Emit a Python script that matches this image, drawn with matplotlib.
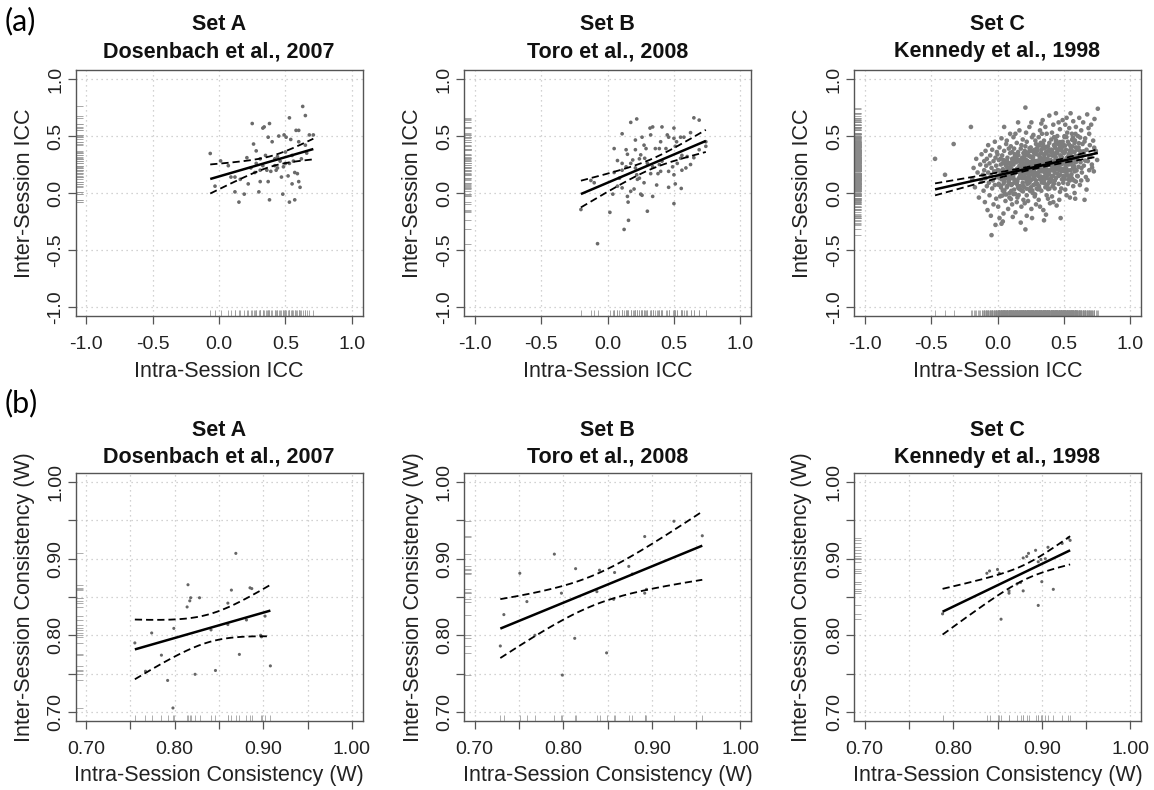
import numpy as np
import matplotlib
matplotlib.use("Agg")
import matplotlib.pyplot as plt

plt.rcParams['font.family'] = ['Liberation Sans', 'DejaVu Sans']

# ---------------- data ----------------
titles_top = ["Set A", "Set B", "Set C"]
titles_sub = ["Dosenbach et al., 2007", "Toro et al., 2008", "Kennedy et al., 1998"]

icc_ticks = [-1.0, -0.5, 0.0, 0.5, 1.0]
icc_labels = ["-1.0", "-0.5", "0.0", "0.5", "1.0"]
w_ticks = [0.70, 0.75, 0.80, 0.85, 0.90, 0.95, 1.00]
w_labels = ["0.70", "", "0.80", "", "0.90", "", "1.00"]

# (a) Set A: intra- vs inter-session ICC
setA_intra = [-0.066, 0.012, -0.03, 0.09, 0.12, 0.12, 0.15, 0.19, 0.21, 0.22, 0.25, 0.26, 0.28, 0.30,
              0.31, 0.31, 0.33, 0.34, 0.36, 0.37, 0.38, 0.37, 0.38, 0.39, 0.40, 0.42, 0.43, 0.44, 0.45,
              0.47, 0.48, 0.49, 0.485, 0.50, 0.505, 0.52, 0.53, 0.53, 0.54, 0.55, 0.56, 0.57, 0.58, 0.60,
              0.59, 0.60, 0.61, 0.60, 0.63, 0.65, 0.65, 0.68, 0.71, 0.57, 0.66, 0.53, 0.31, 0.28,
              0.07, 0.16, 0.24, 0.33, 0.35, 0.42, 0.46, 0.50, 0.55, 0.62, 0.27, 0.44]
setA_inter = [0.347, 0.282, 0.06, 0.14, 0.14, 0.01, -0.08, -0.01, 0.31, 0.08, 0.61, 0.43, 0.37, 0.01,
              0.10, 0.30, 0.57, 0.58, 0.20, 0.10, 0.61, 0.49, -0.06, 0.19, 0.45, 0.24, 0.20, 0.32, 0.50,
              0.14, -0.01, 0.51, 0.23, 0.26, 0.49, 0.15, 0.66, -0.08, 0.47, 0.08, 0.28, -0.06, 0.55, 0.55,
              0.17, 0.10, 0.05, 0.45, 0.76, 0.68, 0.42, 0.51, 0.51, 0.18, 0.35, 0.26, 0.20, 0.26,
              0.24, 0.12, 0.22, 0.24, 0.33, 0.30, 0.28, 0.36, 0.33, 0.30, 0.18, 0.22]

# (a) Set B
setB_icc = [(-0.20, -0.145), (-0.075, -0.445), (0.018, -0.17), (0.125, -0.32), (0.158, -0.24), (0.30, -0.16),
            (0.50, -0.093), (0.04, -0.01), (0.155, -0.08), (0.15, -0.03), (0.20, 0.035), (0.25, -0.01),
            (0.26, -0.02), (0.34, -0.03), (0.37, 0.07), (0.46, 0.05), (0.51, 0.08), (0.555, 0.04),
            (-0.125, 0.11), (-0.10, 0.09), (0.05, 0.18), (0.075, 0.285), (0.11, 0.26), (0.11, 0.52),
            (0.05, 0.39), (0.14, 0.38), (0.15, 0.34), (0.175, 0.62), (0.22, 0.65), (0.21, 0.465),
            (0.21, 0.38), (0.24, 0.13), (0.22, 0.16), (0.21, 0.22), (0.26, 0.49), (0.275, 0.42),
            (0.29, 0.39), (0.32, 0.57), (0.34, 0.58), (0.325, 0.51), (0.36, 0.39), (0.39, 0.39),
            (0.40, 0.45), (0.41, 0.58), (0.45, 0.51), (0.46, 0.49), (0.50, 0.57), (0.50, 0.48),
            (0.52, 0.45), (0.55, 0.49), (0.575, 0.49), (0.625, 0.53), (0.65, 0.66), (0.69, 0.64),
            (0.74, 0.45), (0.74, 0.41), (0.69, 0.38), (0.65, 0.31), (0.625, 0.25), (0.59, 0.22),
            (0.56, 0.20), (0.525, 0.26), (0.49, 0.23), (0.50, 0.16), (0.46, 0.19), (0.41, 0.28),
            (0.39, 0.25), (0.40, 0.19), (0.38, 0.17), (0.34, 0.23), (0.325, 0.17), (0.30, 0.26),
            (0.28, 0.305), (0.25, 0.335), (0.24, 0.30), (0.175, 0.26), (0.19, 0.29), (0.14, 0.23),
            (0.11, 0.20), (0.09, 0.13), (0.075, 0.06), (0.11, 0.045), (0.175, 0.015), (0.225, 0.12),
            (0.275, 0.09), (0.55, 0.305), (0.56, 0.33), (0.60, 0.32), (0.51, 0.41), (0.44, 0.39)]

# (a) Set C (dense cloud, read approximately)
setC_icc = [
    (-0.47, 0.30), (-0.395, 0.16), (-0.33, 0.43), (-0.20, 0.58), (-0.045, -0.37), (-0.015, -0.28), (0.04, -0.25), (0.75, 0.29),
    (-0.19, 0.12), (-0.18, 0.22), (-0.17, 0.05), (-0.16, 0.30), (-0.15, 0.18), (-0.14, -0.04), (-0.13, 0.25), (-0.12, 0.10),
    (-0.12, 0.34), (-0.11, 0.16), (-0.105, 0.02), (-0.10, 0.28),
    (-0.10, 0.20), (-0.095, -0.08), (-0.09, 0.37), (-0.09, 0.13), (-0.085, 0.24), (-0.08, 0.06), (-0.08, 0.30), (-0.075, -0.15),
    (-0.07, 0.18), (-0.07, 0.42), (-0.065, 0.09), (-0.06, 0.26), (-0.06, -0.02), (-0.055, 0.33), (-0.05, 0.15), (-0.05, -0.20),
    (-0.045, 0.22), (-0.04, 0.04), (-0.04, 0.38), (-0.035, 0.11), (-0.03, 0.28), (-0.03, -0.10), (-0.025, 0.19), (-0.02, 0.45),
    (-0.02, 0.07), (-0.015, 0.31), (-0.01, -0.05), (-0.01, 0.24), (-0.005, 0.14), (-0.005, 0.36),
    (0.00, 0.20), (0.005, -0.12), (0.01, 0.29), (0.01, 0.08), (0.015, 0.40), (0.02, 0.16), (0.02, -0.03), (0.025, 0.25),
    (0.03, 0.12), (0.03, 0.48), (0.035, 0.33), (0.04, 0.02), (0.04, 0.21), (0.045, -0.18), (0.05, 0.37), (0.05, 0.10),
    (0.055, 0.27), (0.06, 0.17), (0.06, -0.07), (0.065, 0.43), (0.07, 0.05), (0.07, 0.23), (0.075, 0.31), (0.08, 0.14),
    (0.08, -0.14), (0.085, 0.39), (0.09, 0.19), (0.09, 0.00), (0.095, 0.26), (0.095, 0.52), (0.00, 0.34), (0.015, -0.22),
    (0.025, 0.06), (0.035, 0.18), (0.045, 0.29), (0.055, -0.01), (0.065, 0.13), (0.075, 0.21), (0.085, 0.09), (0.095, 0.35),
    (0.05, 0.58), (0.03, -0.27), (0.07, 0.46), (0.08, 0.26), (0.09, -0.04),
    (0.10, 0.22), (0.10, 0.41), (0.105, 0.07), (0.11, 0.30), (0.11, -0.10), (0.115, 0.16), (0.12, 0.49), (0.12, 0.25),
    (0.125, 0.03), (0.13, 0.34), (0.13, 0.18), (0.135, -0.17), (0.14, 0.11), (0.14, 0.27), (0.145, 0.44), (0.15, 0.20),
    (0.15, -0.04), (0.155, 0.36), (0.16, 0.13), (0.16, 0.29), (0.165, 0.55), (0.17, 0.06), (0.17, 0.23), (0.175, 0.39),
    (0.18, 0.16), (0.18, -0.12), (0.185, 0.31), (0.19, 0.09), (0.19, 0.47), (0.195, 0.26), (0.10, 0.15), (0.11, 0.36),
    (0.12, -0.01), (0.13, 0.28), (0.14, 0.20), (0.15, 0.33), (0.16, 0.04), (0.17, 0.15), (0.18, 0.42), (0.19, 0.19),
    (0.105, 0.27), (0.125, 0.12), (0.145, -0.08), (0.165, 0.24), (0.185, 0.02), (0.195, 0.35), (0.115, -0.21), (0.155, 0.62),
    (0.175, -0.26), (0.135, 0.52), (0.125, 0.39), (0.145, 0.08), (0.165, 0.18), (0.185, 0.13), (0.195, -0.06),
    (0.20, 0.24), (0.20, 0.05), (0.205, 0.37), (0.21, 0.75), (0.21, 0.17), (0.21, -0.32), (0.215, 0.29), (0.22, 0.10),
    (0.22, 0.45), (0.225, 0.21), (0.23, -0.07), (0.23, 0.33), (0.235, 0.14), (0.24, 0.58), (0.24, 0.27), (0.245, 0.02),
    (0.25, 0.19), (0.25, 0.40), (0.255, -0.14), (0.26, 0.31), (0.26, 0.12), (0.265, 0.23), (0.27, 0.51), (0.27, 0.07),
    (0.275, 0.35), (0.28, 0.17), (0.28, -0.03), (0.285, 0.28), (0.29, 0.43), (0.29, 0.11), (0.295, 0.22), (0.20, 0.31),
    (0.21, 0.41), (0.22, -0.02), (0.23, 0.25), (0.24, 0.15), (0.25, 0.32), (0.26, 0.49), (0.27, 0.20), (0.28, 0.38),
    (0.29, -0.10), (0.205, 0.13), (0.215, 0.53), (0.225, 0.08), (0.235, 0.36), (0.245, 0.22), (0.255, 0.62), (0.265, 0.00),
    (0.275, 0.26), (0.285, 0.16), (0.295, 0.34), (0.22, -0.20), (0.26, -0.22), (0.24, 0.09), (0.27, 0.29), (0.23, 0.18),
    (0.285, 0.46), (0.25, 0.05), (0.295, 0.04), (0.205, -0.09),
    (0.30, 0.26), (0.30, 0.08), (0.305, 0.42), (0.31, 0.18), (0.31, -0.06), (0.315, 0.33), (0.32, 0.12), (0.32, 0.55),
    (0.325, 0.24), (0.33, 0.02), (0.33, 0.38), (0.335, 0.19), (0.34, 0.64), (0.34, 0.29), (0.345, -0.15), (0.35, 0.14),
    (0.35, 0.46), (0.355, 0.23), (0.36, 0.05), (0.36, 0.35), (0.365, 0.21), (0.37, 0.52), (0.37, -0.02), (0.375, 0.30),
    (0.38, 0.16), (0.38, 0.41), (0.385, 0.09), (0.39, 0.27), (0.39, 0.68), (0.395, -0.09), (0.30, 0.37), (0.31, 0.49),
    (0.32, -0.12), (0.33, 0.27), (0.34, 0.10), (0.35, 0.31), (0.36, 0.58), (0.37, 0.13), (0.38, 0.25), (0.39, 0.44),
    (0.305, 0.15), (0.315, 0.04), (0.325, 0.44), (0.335, 0.52), (0.345, 0.20), (0.355, 0.39), (0.365, -0.19), (0.375, 0.07),
    (0.385, 0.33), (0.395, 0.20), (0.32, 0.30), (0.34, 0.40), (0.36, 0.17), (0.38, -0.05), (0.33, 0.61), (0.35, -0.24),
    (0.37, 0.36), (0.39, 0.12), (0.31, 0.25), (0.36, 0.26),
    (0.40, 0.29), (0.40, 0.10), (0.405, 0.47), (0.41, 0.20), (0.41, -0.03), (0.415, 0.36), (0.42, 0.15), (0.42, 0.60),
    (0.425, 0.26), (0.43, 0.04), (0.43, 0.41), (0.435, 0.22), (0.44, 0.70), (0.44, 0.31), (0.445, -0.11), (0.45, 0.17),
    (0.45, 0.50), (0.455, 0.27), (0.46, 0.08), (0.46, 0.38), (0.465, 0.23), (0.47, 0.56), (0.47, 0.01), (0.475, 0.33),
    (0.475, -0.22), (0.48, 0.19), (0.48, 0.44), (0.485, 0.12), (0.49, 0.30), (0.49, 0.64), (0.495, 0.21), (0.40, 0.38),
    (0.41, 0.53), (0.42, -0.08), (0.43, 0.28), (0.44, 0.13), (0.45, 0.35), (0.46, 0.62), (0.47, 0.16), (0.48, 0.26),
    (0.49, 0.45), (0.405, 0.24), (0.415, 0.06), (0.425, 0.49), (0.435, 0.34), (0.445, 0.24), (0.455, 0.43), (0.465, -0.06),
    (0.485, 0.37), (0.495, 0.09), (0.42, 0.33), (0.44, 0.45), (0.46, 0.29), (0.48, 0.04), (0.43, 0.18),
    (0.50, 0.27), (0.50, 0.12), (0.505, 0.49), (0.51, 0.22), (0.51, 0.03), (0.515, 0.38), (0.52, 0.17), (0.52, 0.66),
    (0.525, 0.31), (0.53, 0.08), (0.53, 0.45), (0.535, 0.25), (0.54, 0.57), (0.54, 0.34), (0.545, -0.04), (0.55, 0.20),
    (0.55, 0.41), (0.555, 0.29), (0.56, 0.13), (0.56, 0.52), (0.565, 0.24), (0.57, 0.63), (0.57, 0.06), (0.575, 0.36),
    (0.58, 0.19), (0.58, 0.44), (0.585, 0.27), (0.59, 0.10), (0.59, 0.58), (0.595, 0.32), (0.50, 0.35), (0.51, 0.60),
    (0.52, -0.02), (0.53, 0.28), (0.54, 0.15), (0.55, 0.70), (0.56, 0.37), (0.57, 0.22), (0.58, 0.00), (0.59, 0.40),
    (0.505, 0.19), (0.525, 0.53), (0.545, 0.11), (0.565, 0.47), (0.585, -0.05),
    (0.60, 0.30), (0.60, 0.15), (0.605, 0.50), (0.61, 0.23), (0.615, 0.66), (0.62, 0.37), (0.62, 0.07), (0.625, 0.27),
    (0.63, 0.55), (0.635, 0.18), (0.64, 0.43), (0.64, 0.33), (0.645, 0.62), (0.65, 0.24), (0.655, -0.06), (0.66, 0.48),
    (0.665, 0.14), (0.67, 0.38), (0.675, 0.69), (0.68, 0.28), (0.685, 0.57), (0.69, 0.20), (0.695, 0.42), (0.61, 0.40),
    (0.63, 0.11), (0.65, 0.35), (0.67, 0.03), (0.69, 0.52),
    (0.70, 0.32), (0.705, 0.60), (0.71, 0.25), (0.72, 0.46), (0.725, 0.19), (0.73, 0.65), (0.74, 0.37), (0.755, 0.74),
    (0.012, 0.135), (0.027, 0.048), (0.041, 0.264), (0.058, 0.171), (0.066, -0.013), (0.083, 0.102), (0.097, 0.228), (0.104, 0.019), (0.118, 0.142), (0.129, 0.316),
    (0.137, 0.101), (0.148, 0.214), (0.159, -0.019), (0.167, 0.275), (0.178, 0.148), (0.186, 0.226), (0.194, 0.062), (0.203, 0.324), (0.212, 0.197), (0.219, 0.038),
    (0.226, 0.281), (0.233, 0.163), (0.241, 0.392), (0.248, 0.109), (0.254, 0.237), (0.262, 0.023), (0.268, 0.318), (0.274, 0.199), (0.281, 0.077), (0.287, 0.262),
    (0.293, 0.174), (0.299, 0.396), (0.306, 0.238), (0.312, 0.061), (0.318, 0.317), (0.324, 0.146), (0.331, 0.271), (0.337, 0.203), (0.343, 0.428), (0.349, 0.109),
    (0.356, 0.299), (0.362, 0.177), (0.368, 0.353), (0.374, 0.242), (0.381, 0.034), (0.387, 0.378), (0.393, 0.201), (0.399, 0.266), (0.406, 0.147), (0.412, 0.329),
    (0.418, 0.244), (0.425, 0.421), (0.431, 0.109), (0.437, 0.303), (0.443, 0.212), (0.450, 0.367), (0.456, 0.278), (0.462, 0.151), (0.469, 0.447), (0.475, 0.326),
    (0.481, 0.213), (0.488, 0.404), (0.494, 0.279), (0.500, 0.136), (0.507, 0.359), (0.513, 0.244), (0.519, 0.491), (0.526, 0.312), (0.532, 0.198), (0.538, 0.428),
    (0.545, 0.281), (0.551, 0.347), (0.557, 0.164), (0.564, 0.409), (0.570, 0.303), (0.576, 0.236), (0.583, 0.462), (0.589, 0.326), (0.595, 0.198), (0.601, 0.381),
    (0.008, 0.072), (0.021, 0.192), (0.035, -0.023), (0.049, 0.117), (0.062, 0.244), (0.075, 0.063), (0.088, 0.159), (0.101, -0.053), (0.114, 0.204), (0.127, 0.091),
    (0.141, 0.309), (0.154, 0.052), (0.166, 0.193), (0.179, 0.267), (0.191, 0.014), (0.204, 0.141), (0.216, 0.352), (0.229, 0.206), (0.242, 0.033), (0.255, 0.274),
    (0.267, 0.158), (0.279, 0.371), (0.291, 0.262), (0.304, 0.032), (0.316, 0.196), (0.328, 0.352), (0.340, 0.247), (0.352, 0.086), (0.364, 0.403), (0.376, 0.277),
    (0.388, 0.173), (0.400, 0.361), (0.412, 0.237), (0.424, 0.082), (0.436, 0.396), (0.448, 0.259), (0.460, 0.204), (0.472, 0.413), (0.484, 0.313), (0.496, 0.149),
    (0.508, 0.416), (0.520, 0.297), (0.532, 0.119), (0.544, 0.374), (0.556, 0.257), (0.568, 0.487), (0.580, 0.362), (0.592, 0.273), (0.604, 0.147), (0.616, 0.328),
    (0.005, 0.201), (0.032, 0.154), (0.052, 0.023), (0.071, 0.286), (0.093, 0.123), (0.112, 0.257), (0.131, 0.174), (0.149, 0.102), (0.171, 0.031), (0.188, 0.291),
    (0.207, 0.259), (0.224, 0.132), (0.245, 0.321), (0.263, 0.173), (0.283, -0.012), (0.302, 0.283), (0.322, 0.204), (0.341, 0.136), (0.361, 0.277), (0.383, 0.193),
    (0.403, 0.121), (0.421, 0.337), (0.441, 0.463), (0.458, 0.246), (0.478, 0.296), (0.497, 0.422), (0.517, 0.216), (0.536, 0.341), (0.555, 0.402), (0.575, 0.111),
    (0.024, 0.302), (0.046, 0.083), (0.068, 0.188), (0.091, 0.261), (0.109, 0.078), (0.133, -0.008), (0.157, 0.333), (0.182, 0.174), (0.198, 0.257), (0.221, 0.117),
    (0.239, 0.264), (0.258, 0.371), (0.277, 0.128), (0.296, 0.227), (0.314, 0.419), (0.333, 0.092), (0.352, 0.334), (0.371, 0.274), (0.391, 0.039), (0.409, 0.379),
    (0.428, 0.203), (0.447, 0.352), (0.466, 0.389), (0.486, 0.256), (0.504, 0.499), (0.523, 0.153), (0.542, 0.303), (0.562, 0.467), (0.581, 0.212), (0.612, 0.438),
    (0.632, 0.219), (0.647, 0.366), (0.661, 0.284), (0.678, 0.114), (0.694, 0.317), (0.712, 0.223), (0.728, 0.398), (0.655, 0.452), (0.622, 0.487), (0.587, 0.519),
]

# (b) Kendall's W consistency
wA_intra = [0.755, 0.767, 0.774, 0.785, 0.792, 0.798, 0.799, 0.814, 0.815, 0.817, 0.818, 0.823, 0.828, 0.841,
            0.846, 0.860, 0.860, 0.864, 0.869, 0.873, 0.881, 0.885, 0.887, 0.897, 0.898, 0.902, 0.908]
wA_inter = [0.790, 0.753, 0.803, 0.774, 0.741, 0.705, 0.809, 0.837, 0.866, 0.845, 0.849, 0.749, 0.849, 0.807,
            0.754, 0.814, 0.842, 0.859, 0.907, 0.775, 0.820, 0.862, 0.861, 0.800, 0.798, 0.825, 0.760]
wB_intra = [0.729, 0.733, 0.751, 0.759, 0.768, 0.790, 0.798, 0.799, 0.813, 0.814, 0.838, 0.841, 0.849, 0.857,
            0.858, 0.874, 0.878, 0.892, 0.892, 0.894, 0.925, 0.957]
wB_inter = [0.786, 0.827, 0.881, 0.844, 0.800, 0.906, 0.855, 0.748, 0.796, 0.887, 0.857, 0.885, 0.777, 0.847,
            0.882, 0.890, 0.880, 0.929, 0.855, 0.860, 0.949, 0.930]
wC_intra = [0.788, 0.838, 0.841, 0.850, 0.852, 0.854, 0.863, 0.863, 0.872, 0.876, 0.879, 0.879, 0.883, 0.885,
            0.893, 0.896, 0.896, 0.899, 0.900, 0.907, 0.904, 0.913, 0.923, 0.930, 0.932]
wC_inter = [0.828, 0.881, 0.884, 0.886, 0.881, 0.821, 0.858, 0.855, 0.867, 0.869, 0.858, 0.901, 0.903, 0.907,
            0.911, 0.896, 0.839, 0.899, 0.870, 0.915, 0.900, 0.860, 0.920, 0.927, 0.924]

# ---------------- helpers ----------------
def t975(df):
    z = 1.959964
    return z + (z**3 + z) / (4 * df) + (5 * z**5 + 16 * z**3 + 3 * z) / (96 * df**2)


def linfit(x, y):
    x = np.asarray(x, float)
    y = np.asarray(y, float)
    n = len(x)
    b, a = np.polyfit(x, y, 1)
    s = np.sqrt(np.sum((y - (a + b * x)) ** 2) / (n - 2))
    xs = np.linspace(x.min(), x.max(), 200)
    se = s * np.sqrt(1.0 / n + (xs - x.mean()) ** 2 / np.sum((x - x.mean()) ** 2))
    yh = a + b * xs
    t = t975(n - 2)
    return xs, yh, yh - t * se, yh + t * se


W, H = 1154, 790
fig = plt.figure(figsize=(W / 100, H / 100), dpi=100)
fig.patch.set_facecolor('white')

col_left = [75.5, 464, 854]
col_w = 287
rows = [(70, 316), (473, 721)]


def make_ax(r, c):
    top, bot = rows[r]
    return fig.add_axes([col_left[c] / W, 1 - bot / H, col_w / W, (bot - top) / H])


def style(ax, ticks, labels, lim):
    ax.set_xlim(*lim)
    ax.set_ylim(*lim)
    ax.set_xticks(ticks)
    ax.set_xticklabels(labels)
    ax.set_yticks(ticks)
    ax.set_yticklabels(labels)
    ax.grid(True, linestyle=(0, (1, 3)), color='#c4c4c4', lw=0.9)
    ax.set_axisbelow(True)
    for sp in ax.spines.values():
        sp.set_color('#555555')
        sp.set_linewidth(1.0)
    ax.tick_params(direction='out', length=5.5, width=0.9, color='#555555',
                   labelsize=14, labelcolor='#222222')
    ax.tick_params(axis='x', pad=9)
    ax.tick_params(axis='y', pad=2.5)
    for lab in ax.get_yticklabels():
        lab.set_rotation(90)
        lab.set_va('center')


def rug(ax, x, y, color, lw):
    ax.vlines(x, 0, 0.025, transform=ax.get_xaxis_transform(), colors=color, lw=lw, zorder=2)
    ax.hlines(y, 0, 0.025, transform=ax.get_yaxis_transform(), colors=color, lw=lw, zorder=2)


def draw(ax, x, y, pcol, psize, rcol, rlw):
    ax.scatter(x, y, s=psize, c=pcol, edgecolors='none', zorder=3)
    rug(ax, x, y, rcol, rlw)
    xs, yh, lo, hi = linfit(x, y)
    ax.plot(xs, yh, color='black', lw=1.8, zorder=5, solid_capstyle='butt')
    ax.plot(xs, lo, color='black', lw=1.3, ls=(0, (4, 2.2)), zorder=5)
    ax.plot(xs, hi, color='black', lw=1.3, ls=(0, (4, 2.2)), zorder=5)


icc_lim = (-1.08, 1.08)
w_lim = (0.688, 1.012)

setB_x = [p[0] for p in setB_icc]
setB_y = [p[1] for p in setB_icc]
setC_x = [p[0] for p in setC_icc]
setC_y = [p[1] for p in setC_icc]

row_a = [(setA_intra, setA_inter, '#6a6a6a', 7, '#9a9a9a', 0.6),
         (setB_x, setB_y, '#6a6a6a', 7, '#9a9a9a', 0.6),
         (setC_x, setC_y, '#7d7d7d', 11, '#8a8a8a', 0.5)]
row_b = [(wA_intra, wA_inter, '#666666', 5, '#a0a0a0', 0.6),
         (wB_intra, wB_inter, '#666666', 5, '#a0a0a0', 0.6),
         (wC_intra, wC_inter, '#666666', 5, '#a0a0a0', 0.6)]

title_y = [(24, 52), (431, 457)]
xlabel_y = [371, 775]
ylabel_x = [25, 413, 802]
xlab_txt = ["Intra-Session ICC", "Intra-Session Consistency (W)"]
ylab_txt = ["Inter-Session ICC", "Inter-Session Consistency (W)"]

for r, (rowdata, ticks, labels, lim) in enumerate([(row_a, icc_ticks, icc_labels, icc_lim),
                                                    (row_b, w_ticks, w_labels, w_lim)]):
    top, bot = rows[r]
    for c, (x, y, pc, ps, rc, rl) in enumerate(rowdata):
        ax = make_ax(r, c)
        style(ax, ticks, labels, lim)
        draw(ax, x, y, pc, ps, rc, rl)
        cx = (col_left[c] + col_w / 2) / W
        fig.text(cx, 1 - title_y[r][0] / H, titles_top[c], ha='center', va='center',
                 fontsize=15.5, fontweight='bold', color='#111111')
        fig.text(cx, 1 - title_y[r][1] / H, titles_sub[c], ha='center', va='center',
                 fontsize=15.5, fontweight='bold', color='#111111')
        fig.text(cx, 1 - xlabel_y[r] / H, xlab_txt[r], ha='center', va='center',
                 fontsize=15.5, color='#222222')
        fig.text(ylabel_x[c] / W, 1 - ((top + bot) / 2) / H, ylab_txt[r], ha='center', va='center',
                 rotation=90, fontsize=15.5, color='#222222')

fig.text(5 / W, 1 - 21 / H, "(a)", ha='left', va='center', fontsize=22, family=['Lato', 'DejaVu Sans'])
fig.text(5 / W, 1 - 403 / H, "(b)", ha='left', va='center', fontsize=22, family=['Lato', 'DejaVu Sans'])

fig.savefig("out.png", dpi=100, facecolor='white')
